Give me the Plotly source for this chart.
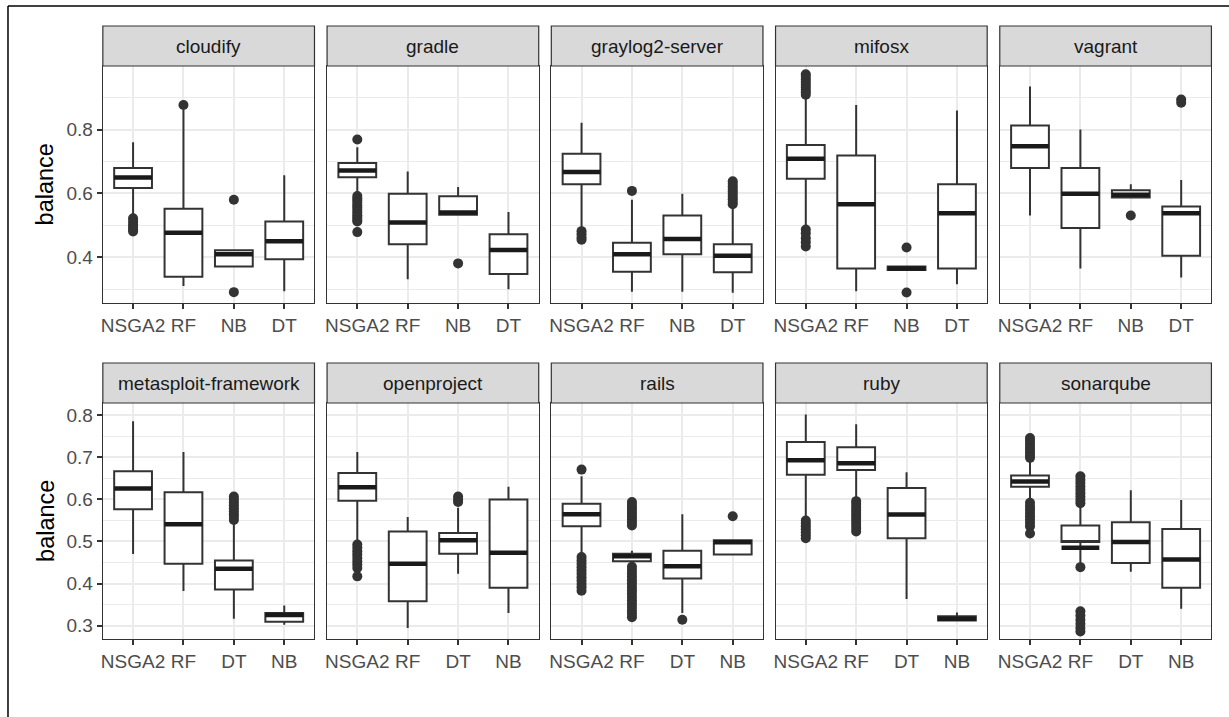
import plotly.graph_objects as go

W, H = 1229, 717

# ---------------- data ----------------
facets = ["cloudify", "gradle", "graylog2-server", "mifosx", "vagrant",
          "metasploit-framework", "openproject", "rails", "ruby", "sonarqube"]
cats_top = ["NSGA2", "RF", "NB", "DT"]
cats_bottom = ["NSGA2", "RF", "DT", "NB"]

lower = [
    [0.533, 0.310, 0.371, 0.294],
    [0.600, 0.331, 0.533, 0.300],
    [0.491, 0.292, 0.292, 0.289],
    [0.496, 0.294, 0.360, 0.316],
    [0.531, 0.365, 0.587, 0.337],
    [0.470, 0.382, 0.316, 0.302],
    [0.497, 0.294, 0.423, 0.330],
    [0.470, 0.447, 0.330, 0.469],
    [0.555, 0.600, 0.363, 0.310],
    [0.596, 0.449, 0.428, 0.340],
]
q1 = [
    [0.617, 0.339, 0.371, 0.394],
    [0.651, 0.441, 0.533, 0.348],
    [0.629, 0.355, 0.410, 0.353],
    [0.646, 0.365, 0.360, 0.365],
    [0.680, 0.492, 0.587, 0.405],
    [0.577, 0.447, 0.386, 0.309],
    [0.597, 0.358, 0.471, 0.390],
    [0.536, 0.453, 0.412, 0.469],
    [0.659, 0.670, 0.508, 0.312],
    [0.630, 0.499, 0.449, 0.390],
]
median = [
    [0.650, 0.477, 0.410, 0.450],
    [0.672, 0.509, 0.540, 0.423],
    [0.667, 0.410, 0.457, 0.405],
    [0.709, 0.566, 0.365, 0.538],
    [0.748, 0.599, 0.596, 0.538],
    [0.626, 0.541, 0.435, 0.325],
    [0.629, 0.447, 0.503, 0.473],
    [0.565, 0.465, 0.441, 0.498],
    [0.693, 0.686, 0.564, 0.316],
    [0.643, 0.485, 0.499, 0.457],
]
q3 = [
    [0.680, 0.552, 0.422, 0.512],
    [0.695, 0.599, 0.591, 0.472],
    [0.724, 0.446, 0.531, 0.441],
    [0.752, 0.719, 0.371, 0.629],
    [0.813, 0.680, 0.610, 0.559],
    [0.667, 0.617, 0.455, 0.330],
    [0.663, 0.524, 0.520, 0.600],
    [0.590, 0.471, 0.478, 0.503],
    [0.737, 0.724, 0.627, 0.322],
    [0.657, 0.538, 0.546, 0.530],
]
upper = [
    [0.760, 0.863, 0.422, 0.657],
    [0.745, 0.669, 0.620, 0.542],
    [0.821, 0.580, 0.599, 0.564],
    [0.905, 0.877, 0.371, 0.860],
    [0.935, 0.800, 0.629, 0.642],
    [0.786, 0.713, 0.548, 0.348],
    [0.713, 0.558, 0.580, 0.630],
    [0.655, 0.478, 0.565, 0.503],
    [0.802, 0.779, 0.665, 0.331],
    [0.695, 0.584, 0.622, 0.599],
]
outliers = [
    [[0.522, 0.512, 0.503, 0.495, 0.488, 0.481], [0.877], [0.580, 0.291], []],
    [[0.769, 0.592, 0.585, 0.578, 0.570, 0.562, 0.555, 0.548, 0.540, 0.532,
      0.525, 0.518, 0.512, 0.479], [], [0.381], []],
    [[0.482, 0.472, 0.462, 0.455], [0.608], [],
     [0.638, 0.630, 0.622, 0.614, 0.606, 0.598, 0.590, 0.582, 0.574, 0.566]],
    [[0.973, 0.965, 0.957, 0.949, 0.941, 0.933, 0.925, 0.917, 0.909,
      0.487, 0.475, 0.460, 0.447, 0.434], [], [0.431, 0.290], []],
    [[], [], [0.531], [0.894, 0.884]],
    [[], [], [0.607, 0.600, 0.593, 0.586, 0.579, 0.572, 0.565, 0.558, 0.551], []],
    [[0.493, 0.485, 0.477, 0.469, 0.461, 0.453, 0.445, 0.437, 0.417], [],
     [0.607, 0.600, 0.594], []],
    [[0.671, 0.463, 0.455, 0.447, 0.439, 0.431, 0.423, 0.415, 0.407, 0.399,
      0.391, 0.383],
     [0.594, 0.587, 0.580, 0.573, 0.566, 0.559, 0.552, 0.545, 0.538,
      0.440, 0.432, 0.424, 0.416, 0.408, 0.400, 0.392, 0.384, 0.376, 0.368,
      0.360, 0.352, 0.344, 0.336, 0.328, 0.320],
     [0.314], [0.560]],
    [[0.550, 0.543, 0.536, 0.529, 0.522, 0.515, 0.508],
     [0.596, 0.589, 0.582, 0.575, 0.568, 0.561, 0.554, 0.547, 0.540, 0.532, 0.524],
     [], []],
    [[0.746, 0.739, 0.732, 0.725, 0.718, 0.711, 0.704, 0.699,
      0.592, 0.584, 0.576, 0.568, 0.560, 0.552, 0.544, 0.536, 0.519],
     [0.655, 0.647, 0.639, 0.631, 0.623, 0.615, 0.607, 0.599, 0.591,
      0.439, 0.334, 0.324, 0.314, 0.304, 0.294, 0.286],
     [], []],
]

y_range_top = [0.257, 0.999]
y_range_bottom = [0.268, 0.8295]
yticks_top = [0.4, 0.6, 0.8]
yminor_top = [0.3, 0.5, 0.7, 0.9]
yticks_bottom = [0.3, 0.4, 0.5, 0.6, 0.7, 0.8]
yminor_bottom = [0.35, 0.45, 0.55, 0.65, 0.75]
positions = [1, 2, 3, 4]

# ---------------- layout geometry (pixels) ----------------
PX0, PW, PSTEP = 101.0, 212.0, 224.6
rows_px = [(26.0, 66.0, 303.0), (363.0, 403.0, 639.0)]  # strip top, panel top, panel bottom
BOXW = 0.75

fig = go.Figure()
layout = dict(width=W, height=H, autosize=False,
              margin=dict(l=0, r=0, t=0, b=0, pad=0),
              paper_bgcolor="white", plot_bgcolor="white",
              showlegend=False, shapes=[], annotations=[],
              font=dict(family="Liberation Sans, Arial, sans-serif"))

TICKC = "#4D4D4D"
LINEC = "#333333"
GRIDC = "#EBEBEB"

for k, name in enumerate(facets):
    r, c = divmod(k, 5)
    sfx = "" if k == 0 else str(k + 1)
    xa, ya = "x" + sfx, "y" + sfx
    x0 = PX0 + c * PSTEP
    x1 = x0 + PW
    st, pt, pb = rows_px[r]
    cats = cats_top if r == 0 else cats_bottom

    layout["xaxis" + sfx] = dict(
        domain=[x0 / W, x1 / W], anchor=ya, range=[0.4, 4.6],
        tickmode="array", tickvals=positions, ticktext=cats,
        showgrid=True, gridcolor=GRIDC, gridwidth=2, zeroline=False,
        showline=True, linecolor=LINEC, linewidth=1.2, mirror=True,
        ticks="outside", ticklen=5, tickwidth=1.5, tickcolor=LINEC,
        tickfont=dict(size=19, color=TICKC), fixedrange=True)
    layout["yaxis" + sfx] = dict(
        domain=[1 - pb / H, 1 - pt / H], anchor=xa,
        range=y_range_top if r == 0 else y_range_bottom,
        tickmode="array", tickvals=yticks_top if r == 0 else yticks_bottom,
        showticklabels=(c == 0), ticks="outside" if c == 0 else "",
        ticklen=5, tickwidth=1.5, tickcolor=LINEC,
        tickfont=dict(size=19, color=TICKC),
        showgrid=True, gridcolor=GRIDC, gridwidth=2, zeroline=False,
        showline=True, linecolor=LINEC, linewidth=1.2, mirror=True,
        minor=dict(tickmode="array",
                   tickvals=yminor_top if r == 0 else yminor_bottom,
                   showgrid=True, gridcolor=GRIDC, gridwidth=1.1, ticks=""),
        fixedrange=True)

    # strip
    layout["shapes"].append(dict(type="rect", xref="paper", yref="paper",
                                 x0=x0 / W, x1=x1 / W, y0=1 - pt / H, y1=1 - st / H,
                                 fillcolor="#D9D9D9", line=dict(color=LINEC, width=1.2),
                                 layer="above"))
    layout["annotations"].append(dict(text=name, xref="paper", yref="paper",
                                      x=(x0 + x1) / 2 / W, y=1 - (st + pt) / 2 / H,
                                      xanchor="center", yanchor="middle", showarrow=False,
                                      font=dict(size=19, color="#1A1A1A")))
    if c == 0:
        layout["annotations"].append(dict(text="balance", xref="paper", yref="paper",
                                          x=44 / W, y=1 - (pt + pb) / 2 / H, textangle=-90,
                                          xanchor="center", yanchor="middle", showarrow=False,
                                          font=dict(size=23.5, color="black")))

    # plotly needs q1 <= median <= q3 for the box body; thick median drawn separately
    box_med = [min(max(m, a), b) for m, a, b in zip(median[k], q1[k], q3[k])]
    fig.add_trace(go.Box(
        x=positions, q1=q1[k], median=box_med, q3=q3[k],
        lowerfence=lower[k], upperfence=upper[k], orientation="v",
        width=BOXW, whiskerwidth=0, boxpoints=False,
        fillcolor="white", line=dict(color=LINEC, width=2),
        xaxis=xa, yaxis=ya, hoverinfo="skip"))

    mx, my = [], []
    for p, m in zip(positions, median[k]):
        mx += [p - BOXW / 2, p + BOXW / 2, None]
        my += [m, m, None]
    fig.add_trace(go.Scatter(x=mx, y=my, mode="lines",
                             line=dict(color="#1A1A1A", width=4.5),
                             xaxis=xa, yaxis=ya, hoverinfo="skip"))

    ox, oy = [], []
    for p, vals in zip(positions, outliers[k]):
        ox += [p] * len(vals)
        oy += vals
    fig.add_trace(go.Scatter(x=ox, y=oy, mode="markers",
                             marker=dict(size=10, color=LINEC),
                             xaxis=xa, yaxis=ya, hoverinfo="skip"))

# outer frame (left + top edges)
layout["shapes"].append(dict(type="line", xref="paper", yref="paper",
                             x0=6 / W, x1=1, y0=1 - 6 / H, y1=1 - 6 / H,
                             line=dict(color="black", width=1.5)))
layout["shapes"].append(dict(type="line", xref="paper", yref="paper",
                             x0=6 / W, x1=6 / W, y0=0, y1=1 - 6 / H,
                             line=dict(color="black", width=1.5)))

fig.update_layout(**layout)
fig.write_html("out.html")
